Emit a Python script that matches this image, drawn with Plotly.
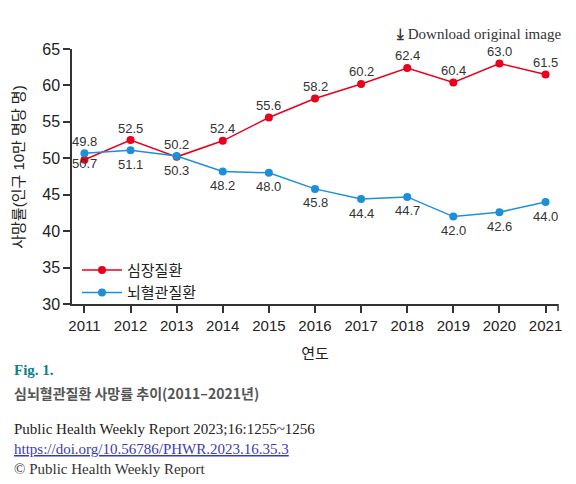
import plotly.graph_objects as go

years = [2011, 2012, 2013, 2014, 2015, 2016, 2017, 2018, 2019, 2020, 2021]
heart = [49.8, 52.5, 50.2, 52.4, 55.6, 58.2, 60.2, 62.4, 60.4, 63.0, 61.5]
cerebro = [50.7, 51.1, 50.3, 48.2, 48.0, 45.8, 44.4, 44.7, 42.0, 42.6, 44.0]
series_names = ["심장질환", "뇌혈관질환"]
y_ticks = [30, 35, 40, 45, 50, 55, 60, 65]

RED = "#e8001c"
BLUE = "#1c8fd9"
AXIS = "#333333"
FONT = "Liberation Sans, Arial, Noto Sans CJK KR, sans-serif"
SERIF = "Liberation Serif, Times New Roman, serif"

# page body margin offsets the figure by 8px; work in screen coordinates
OFF = 8
W, H = 576 - OFF, 484 - OFF
SL, SR, ST, SB = 72, 558.3, 49.3, 304.3   # plot area in screen pixels
L, T = SL - OFF, ST - OFF
R, B = W - (SR - OFF), H - (SB - OFF)
PW, PH = SR - SL, SB - ST


def px(x):
    return (x - SL) / PW


def py(y):
    return (SB - y) / PH


fig = go.Figure()
fig.add_trace(go.Scatter(x=years, y=heart, name=series_names[0], mode="lines+markers",
                         line=dict(color=RED, width=1.5), marker=dict(size=8, color=RED)))
fig.add_trace(go.Scatter(x=years, y=cerebro, name=series_names[1], mode="lines+markers",
                         line=dict(color=BLUE, width=1.5), marker=dict(size=8, color=BLUE)))

ann = []
for i, (yr, a, b) in enumerate(zip(years, heart, cerebro)):
    up, down = 12, -14
    if i == 0:
        up, down = 18, -10
    ann.append(dict(x=yr, y=a, text=f"{a:.1f}", showarrow=False, yshift=up,
                    font=dict(size=13, color="#333333", family=FONT)))
    ann.append(dict(x=yr, y=b, text=f"{b:.1f}", showarrow=False, yshift=down,
                    font=dict(size=13, color="#333333", family=FONT)))


def page_text(x, y, text, size, color, family, xanchor="left", **kw):
    return dict(xref="paper", yref="paper", x=px(x), y=py(y), xanchor=xanchor,
                yanchor="middle", text=text, showarrow=False,
                font=dict(size=size, color=color, family=family), **kw)


# y-axis title
ann.append(page_text(19, 168, "사망률(인구 10만 명당 명)", 15, "#222222", FONT,
                     xanchor="center", textangle=-90))

# page texts
ann.append(page_text(563, 34, "<b>⤓</b> Download original image", 15, "#333333", SERIF,
                     xanchor="right"))
ann.append(page_text(12, 370, "<b>Fig. 1.</b>", 15, "#127f87", SERIF))
ann.append(page_text(12, 393, "<b>심뇌혈관질환 사망률 추이(2011–2021년)</b>", 14, "#555555",
                     "Noto Sans CJK KR, sans-serif"))
ann.append(page_text(12, 429, "Public Health Weekly Report 2023;16:1255~1256", 15,
                     "#222222", SERIF))
ann.append(page_text(12, 449, "<u>https://doi.org/10.56786/PHWR.2023.16.35.3</u>", 15,
                     "#3b3bb3", SERIF))
ann.append(page_text(12, 469, "© Public Health Weekly Report", 15, "#333333", SERIF))

fig.update_layout(
    width=W, height=H,
    margin=dict(l=L, r=R, t=T, b=B),
    paper_bgcolor="white", plot_bgcolor="white",
    font=dict(family=FONT, color="#222222", size=15),
    showlegend=True,
    legend=dict(x=px(77), y=py(281.5), xanchor="left", yanchor="middle",
                bgcolor="rgba(0,0,0,0)", font=dict(size=15, family=FONT),
                tracegroupgap=0, itemwidth=40),
    annotations=ann,
    shapes=[dict(type="line", xref="paper", yref="paper", x0=1, x1=1,
                 ysizemode="pixel", yanchor=0, y0=0, y1=-7,
                 line=dict(color=AXIS, width=1.5))],
)
fig.update_xaxes(range=[2010.73, 2021.27], tickmode="array", tickvals=years,
                 ticktext=[str(y) for y in years], showline=True, linecolor=AXIS, linewidth=1.5,
                 ticks="outside", ticklen=7, tickcolor=AXIS, tickwidth=1.5, showgrid=False,
                 zeroline=False, tickfont=dict(size=15),
                 title=dict(text="연도", font=dict(size=15), standoff=16))
fig.update_yaxes(range=[30, 65], tickmode="array", tickvals=y_ticks, showline=True,
                 linecolor=AXIS, linewidth=1.5, ticks="outside", ticklen=7, tickcolor=AXIS,
                 tickwidth=1.5, showgrid=False, zeroline=False, tickfont=dict(size=16))

fig.write_html("out.html")
